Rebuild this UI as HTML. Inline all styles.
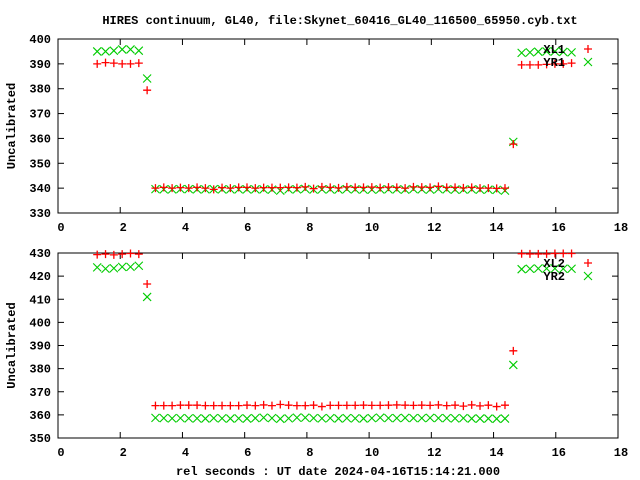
<!DOCTYPE html>
<html><head><meta charset="utf-8"><style>
body{margin:0;background:#fff;}
svg{display:block;font-family:"Liberation Mono","DejaVu Sans Mono",monospace;font-weight:bold;font-size:12px;}
</style></head><body>
<svg id="chart" width="640" height="480" viewBox="0 0 640 480" xmlns="http://www.w3.org/2000/svg">
<rect width="640" height="480" fill="#fff"/>
<text x="340" y="24" text-anchor="middle">HIRES continuum, GL40, file:Skynet_60416_GL40_116500_65950.cyb.txt</text>
<text x="338" y="475" text-anchor="middle">rel seconds : UT date 2024-04-16T15:14:21.000</text>
<g id="p1"></g>
<g id="p2"></g>
</svg>
<script>
const xTicks = [0,2,4,6,8,10,12,14,16,18];
const yTicks1 = [330,340,350,360,370,380,390,400];
const yTicks2 = [350,360,370,380,390,400,410,420,430];
const t0 = 1.26, dt = 0.2675;
const xl1 = [390,390.5,390.3,390,390,390.3,379.4,
 340,340.3,340,340.2,340,340.3,340,339.5,340.2,340,340.3,340.3,340,340.2,340.2,340.2,340.3,340.2,340.5,339.8,340.5,340.3,340.1,340.5,340.3,340.3,340.4,340.2,340.4,340.3,340,340.5,340.4,340.3,340.7,340.3,340.3,340.1,340.3,340,340,339.9,340,
 357.7,389.6,389.6,389.6,389.8,390,390,390.3];
const yr1 = [395,395,395.3,395.8,395.8,395.3,384.1,
 339.6,339.5,339.5,339.6,339.6,339.5,339.5,339.6,339.5,339.5,339.5,339.5,339.5,339.5,339.4,339,339.5,339.5,339.7,339.4,339.5,339.5,339.4,339.6,339.5,339.4,339.4,339.5,339.5,339.5,339.4,339.6,339.5,339.4,339.6,339.5,339.4,339.4,339.5,339.4,339.4,339.3,339,
 358.6,394.4,394.6,394.9,395,395,394.8,394.6];
const xl2 = [429.3,429.5,429.2,429.5,429.8,429.5,416.6,
 364,364,364,364.2,364.2,364.2,364,364,364,364,
 364,364.2,364,364.3,364,364.5,364.2,364,364,364.2,
 363.6,364.1,364.1,364.1,364.1,364.2,364.1,364.1,364.2,364.3,
 364.2,364.1,364.2,364.1,364.3,364,364.2,363.8,364.3,363.9,
 364.2,363.6,364.2,
 387.7,429.7,429.6,429.6,429.6,429.8,429.8,429.8];
const yr2 = [423.8,423.2,423.4,424,424,424.5,411,
 358.7,358.6,358.5,358.6,358.5,358.5,358.4,358.6,358.5,358.4,
 358.5,358.4,358.6,358.8,358.6,358.3,358.5,358.8,358.8,358.6,
 358.5,358.6,358.4,358.6,358.5,358.4,358.6,358.8,358.6,358.6,
 358.7,358.6,358.6,358.7,358.6,358.6,358.5,358.6,358.4,358.4,
 358.4,358.3,358.4,
 381.6,423,423.2,423.3,423.3,423.3,423.2,423.2];
const NS='http://www.w3.org/2000/svg';
function mk(tag, attrs, parent){const e=document.createElementNS(NS,tag);for(const k in attrs)e.setAttribute(k,attrs[k]);parent.appendChild(e);return e;}
function panel(g, top, bot, ymin, ymax, yTicks, s1, s2, n1, n2, legY){
  const L=58,R=618;
  const sx=v=>L+(R-L)*v/18;
  const sy=v=>bot-(bot-top)*(v-ymin)/(ymax-ymin);
  xTicks.forEach(v=>{
    const x=sx(v);
    const a=mk('line',{x1:x,x2:x,y1:bot,y2:bot-6,stroke:'#000'},g);
    
    
    const b=mk('line',{x1:x,x2:x,y1:top,y2:top+6,stroke:'#000'},g);
    
    
    const t=mk('text',{x:x+3,y:bot+18,'text-anchor':'middle'},g);t.textContent=v;
    
    
  });
  yTicks.forEach(v=>{
    const y=sy(v);
    const a=mk('line',{x1:L,x2:L+6,y1:y,y2:y,stroke:'#000'},g);
    
    
    const b=mk('line',{x1:R,x2:R-6,y1:y,y2:y,stroke:'#000'},g);
    
    
    const t=mk('text',{x:51,y:y+4,'text-anchor':'end'},g);t.textContent=v;
    
    
  });
  const fr=mk('rect',{x:L,y:top,width:R-L,height:bot-top,fill:'none',stroke:'#000'},g);
  
  
  const yl=mk('text',{transform:`translate(15,${(top+bot)/2}) rotate(-90)`,'text-anchor':'middle'},g);
  yl.textContent='Uncalibrated';
  
  
  function plus(x,y){const p=mk('path',{d:`M${x-4},${y}h8M${x},${y-4}v8`,stroke:'#f00','stroke-width':1.3,fill:'none'},g);return p;}
  function cross(x,y){const p=mk('path',{d:`M${x-4},${y-4}l8,8M${x-4},${y+4}l8,-8`,stroke:'#0c0','stroke-width':1.1,fill:'none'},g);return p;}
  s2.forEach((v,i)=>{const p=cross(sx(t0+dt*i),sy(v));
    
    });
  s1.forEach((v,i)=>{const p=plus(sx(t0+dt*i),sy(v));
    
    });
  const t1=mk('text',{x:565,y:legY+4,'text-anchor':'end'},g);t1.textContent=n1;
  
  
  const t2=mk('text',{x:565,y:legY+17,'text-anchor':'end'},g);t2.textContent=n2;
  
  
  const m1=plus(588,legY);
  
  
  const m2=cross(588,legY+13);
  
  
}
panel(document.getElementById('p1'),39,213,330,400,yTicks1,xl1,yr1,'XL1','YR1',49);
panel(document.getElementById('p2'),253,438,350,430,yTicks2,xl2,yr2,'XL2','YR2',263);
</script>
</body></html>
